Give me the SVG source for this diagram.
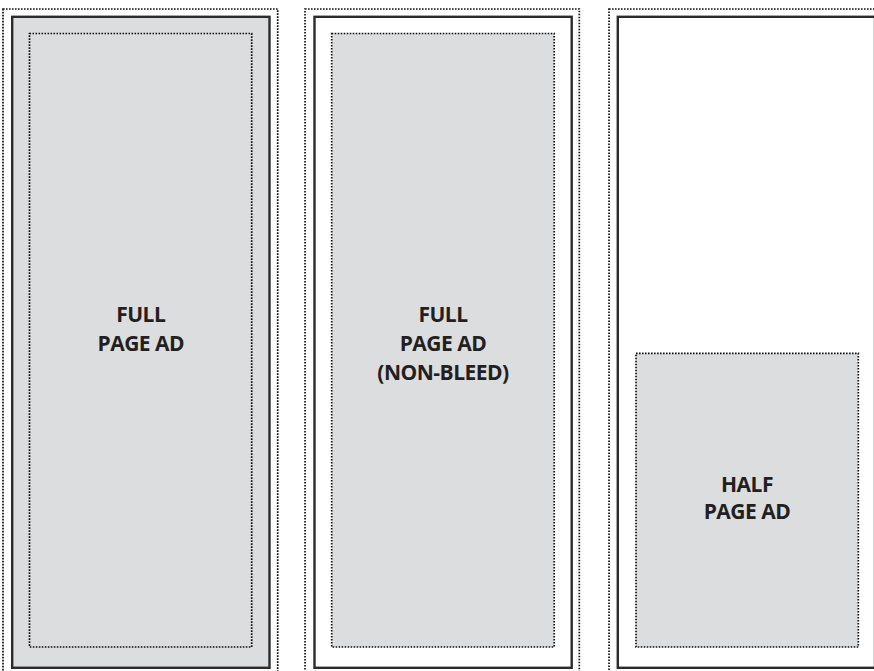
<svg xmlns="http://www.w3.org/2000/svg" width="874" height="671" viewBox="0 0 874 671">
<style>
.dot{fill:none;stroke:#111;stroke-width:1.7;stroke-dasharray:1.6 1.4}
.trim{fill:none;stroke:#2b2b2b;stroke-width:2.4}
.gray{fill:#dcdddf}
.lbl{font-family:"Open Sans","DejaVu Sans",sans-serif;font-weight:bold;font-size:21px;letter-spacing:-0.5px;fill:#231f20;text-anchor:middle}
</style>
<rect width="874" height="671" fill="#fff"/>
<g id="full-page">
<rect class="dot" x="3" y="9" width="274.7" height="680"/>
<rect class="gray" x="12.2" y="16.8" width="257.3" height="651"/>
<rect class="trim" x="12.2" y="16.8" width="257.3" height="651"/>
<rect class="dot" x="29.5" y="33.5" width="222.2" height="613.5"/>
<text class="lbl" x="140.8" y="322">FULL</text>
<text class="lbl" x="140.8" y="351">PAGE AD</text>
</g>
<g id="full-page-non-bleed">
<rect class="dot" x="305" y="9" width="274.3" height="680"/>
<rect class="trim" x="314.5" y="16.8" width="257.2" height="651"/>
<rect class="gray" x="331.7" y="33.5" width="222.5" height="613.5"/>
<rect class="dot" x="331.7" y="33.5" width="222.5" height="613.5"/>
<text class="lbl" x="443" y="322">FULL</text>
<text class="lbl" x="443" y="351">PAGE AD</text>
<text class="lbl" x="443" y="380">(NON-BLEED)</text>
</g>
<g id="half-page">
<rect class="dot" x="609" y="9" width="300" height="680"/>
<rect class="trim" x="617.8" y="16.8" width="257.2" height="651"/>
<rect class="gray" x="636" y="353.3" width="222.3" height="293.7"/>
<rect class="dot" x="636" y="353.3" width="222.3" height="293.7"/>
<text class="lbl" x="747" y="491.5">HALF</text>
<text class="lbl" x="747" y="519">PAGE AD</text>
</g>
<g id="connectors"/>
</svg>
